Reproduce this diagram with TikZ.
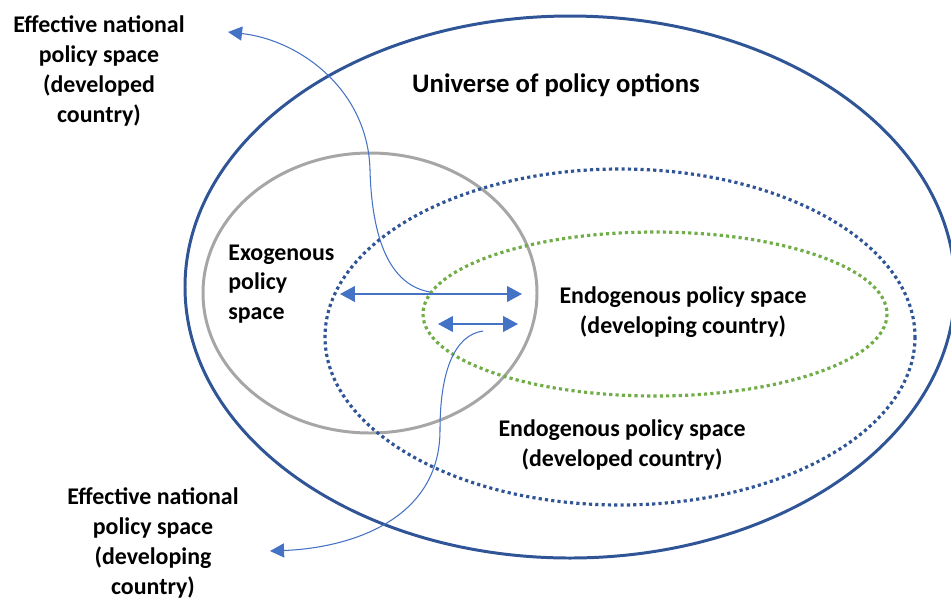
\documentclass[tikz,border=0pt]{standalone}
\usepackage{fontspec}
\setmainfont{Carlito}
\usetikzlibrary{arrows.meta}

\definecolor{outerblue}{HTML}{2F5597}
\definecolor{arrowblue}{HTML}{4472C4}
\definecolor{exogray}{HTML}{A6A6A6}
\definecolor{endogreen}{HTML}{70AD47}

\tikzset{
  label/.style={font=\bfseries\fontsize{13.6}{17}\selectfont, align=center, inner sep=0pt},
  dots/.style={line width=1.8pt, dash pattern=on 1.8pt off 1.8pt},
  twoway/.style={arrowblue, line width=0.7pt, {Triangle[length=8.5pt,width=9pt]}-{Triangle[length=8.5pt,width=9pt]}},
  pointer/.style={arrowblue, line width=0.6pt, -{Triangle[length=8pt,width=8pt]}}
}

\begin{document}
\begin{tikzpicture}[x=0.02cm, y=-0.02cm]
    \useasboundingbox (0,0) rectangle (951,600);

    \draw[outerblue, line width=1.7pt] (570,287) ellipse (385 and 271);
    \draw[exogray, line width=1.7pt] (370,293) ellipse (167 and 140);
    \draw[outerblue, dots] (620,337) ellipse (295 and 168);
    \draw[endogreen, dots] (655,314) ellipse (232 and 82);

    \node[label, font=\bfseries\fontsize{15.2}{17}\selectfont] (Universe) at (556,85) {Universe of policy options};
    \node[label, align=left, anchor=west] (Exo) at (228,284) {Exogenous\\policy\\space};
    \node[label] (EndoDvg) at (683,312) {Endogenous policy space\\(developing country)};
    \node[label] (EndoDev) at (622,445) {Endogenous policy space\\(developed country)};
    \node[label] (EffDev) at (99,71) {Effective national\\policy space\\(developed\\country)};
    \node[label] (EffDvg) at (153,543) {Effective national\\policy space\\(developing\\country)};

    \coordinate (LongL) at (340,294);
    \coordinate (LongR) at (522,294);
    \coordinate (ShortL) at (438,324);
    \coordinate (ShortR) at (518,324);
    \draw[twoway] (LongL) -- (LongR);
    \draw[twoway] (ShortL) -- (ShortR);

    \coordinate (DevStart) at (430,292);
    \coordinate (DevTip) at (228,32);
    \coordinate (DvgStart) at (483,331);
    \coordinate (DvgTip) at (270,551);
    \draw[pointer] (DevStart) .. controls (390,285) and (372,240) .. (370,170)
        .. controls (368,90) and (300,40) .. (DevTip);
    \draw[pointer] (DvgStart) .. controls (455,335) and (440,370) .. (440,430)
        .. controls (440,520) and (350,548) .. (DvgTip);
\end{tikzpicture}
\end{document}
